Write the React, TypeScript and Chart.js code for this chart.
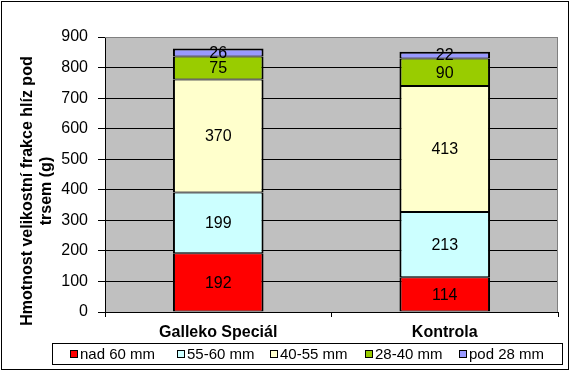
import React, { useEffect, useRef } from 'react';
import { Chart, registerables } from 'chart.js';

Chart.register(...registerables);

const categories = ['Galleko Speciál', 'Kontrola'];
const seriesNames = ['nad 60 mm', '55-60 mm', '40-55 mm', '28-40 mm', 'pod 28 mm'];
const nad60 = [192, 114];
const mm55to60 = [199, 213];
const mm40to55 = [370, 413];
const mm28to40 = [75, 90];
const pod28 = [26, 22];
const seriesValues = [nad60, mm55to60, mm40to55, mm28to40, pod28];
const seriesColors = ['#ff0000', '#ccffff', '#ffffcc', '#99cc00', '#9999ff'];
const yMin = 0;
const yMax = 900;
const yStep = 100;
const yTitle = ['Hmotnost velikostní frakce hlíz pod', 'trsem (g)'];

const FONT = "'Liberation Sans', Arial, sans-serif";
const LEGEND_X = [70, 177, 270, 365, 459];

const decorPlugin = {
  id: 'decor',
  beforeDraw(chart: any) {
    const { ctx, chartArea } = chart;
    ctx.save();
    ctx.fillStyle = '#c0c0c0';
    ctx.fillRect(chartArea.left, chartArea.top, chartArea.right - chartArea.left, chartArea.bottom - chartArea.top);
    ctx.restore();
  },
  beforeDatasetsDraw(chart: any) {
    const { ctx, chartArea } = chart;
    ctx.save();
    ctx.strokeStyle = '#808080';
    ctx.lineWidth = 1;
    ctx.beginPath();
    ctx.moveTo(chartArea.left, Math.round(chartArea.top) + 0.5);
    ctx.lineTo(Math.round(chartArea.right) - 0.5, Math.round(chartArea.top) + 0.5);
    ctx.lineTo(Math.round(chartArea.right) - 0.5, chartArea.bottom);
    ctx.stroke();
    ctx.restore();
  },
  afterDatasetsDraw(chart: any) {
    const { ctx } = chart;
    ctx.save();
    ctx.fillStyle = '#000';
    ctx.font = `16px ${FONT}`;
    ctx.textAlign = 'center';
    ctx.textBaseline = 'middle';
    chart.data.datasets.forEach((ds: any, i: number) => {
      const meta = chart.getDatasetMeta(i);
      meta.data.forEach((el: any, j: number) => {
        const p = el.getProps(['x', 'y', 'base'], true);
        ctx.fillText(String(ds.data[j]), p.x, (p.y + p.base) / 2 + 1);
      });
    });
    ctx.restore();
  },
  afterDraw(chart: any) {
    const { ctx } = chart;
    ctx.save();
    ctx.fillStyle = '#000';
    ctx.font = `bold 16px ${FONT}`;
    ctx.textAlign = 'center';
    ctx.textBaseline = 'alphabetic';
    ctx.translate(31.5, 191);
    ctx.rotate(-Math.PI / 2);
    yTitle.forEach((line, k) => ctx.fillText(line, 0, k * 19.5));
    ctx.restore();

    ctx.save();
    ctx.strokeStyle = '#000';
    ctx.lineWidth = 1;
    ctx.strokeRect(52.5, 343.5, 510, 21);
    ctx.font = `15px ${FONT}`;
    ctx.textBaseline = 'middle';
    ctx.textAlign = 'left';
    const cy = 354;
    chart.data.datasets.forEach((ds: any, i: number) => {
      const x = LEGEND_X[i];
      ctx.fillStyle = ds.backgroundColor;
      ctx.fillRect(x, cy - 4, 8, 8);
      ctx.strokeStyle = '#000';
      ctx.strokeRect(x + 0.5, cy - 3.5, 7, 7);
      ctx.fillStyle = '#000';
      ctx.fillText(ds.label, x + 10, cy + 1);
    });
    ctx.restore();

    ctx.save();
    ctx.strokeStyle = '#000';
    ctx.lineWidth = 1;
    ctx.strokeRect(1.5, 1.5, 567, 368);
    ctx.restore();
  },
};

export default function App() {
  const ref = useRef<HTMLCanvasElement>(null);
  useEffect(() => {
    document.body.style.margin = '0';
    const last = seriesValues.length - 1;
    const chart = new Chart(ref.current as HTMLCanvasElement, {
      type: 'bar',
      data: {
        labels: categories,
        datasets: seriesValues.map((vals, i) => ({
          label: seriesNames[i],
          data: vals,
          backgroundColor: seriesColors[i],
          borderColor: '#000',
          borderWidth: { left: 2, right: 2, top: i === last ? 2 : 1, bottom: 1 },
          borderSkipped: false,
          inflateAmount: 0,
          categoryPercentage: 1,
          barPercentage: 0.4,
        })),
      },
      options: {
        responsive: false,
        animation: false,
        layout: { padding: { top: 37, right: 12, left: 0, bottom: 0 } },
        plugins: { legend: { display: false }, tooltip: { enabled: false } },
        scales: {
          x: {
            stacked: true,
            grid: { display: true, drawOnChartArea: false, drawTicks: true, tickLength: 5, color: '#000', offset: true },
            border: { display: true, color: '#000', width: 1 },
            ticks: { color: '#000', font: { family: FONT, size: 16, weight: 'bold' }, padding: 6 },
            afterFit: (s: any) => { s.height = 59; },
          },
          y: {
            stacked: true,
            min: yMin,
            max: yMax,
            ticks: { stepSize: yStep, color: '#000', font: { family: FONT, size: 16 }, padding: 10 },
            grid: {
              color: (c: any) => (c.tick && c.tick.value === yMax ? '#808080' : '#000'),
              tickColor: '#000',
              tickLength: 7,
              drawTicks: true,
            },
            border: { display: true, color: '#000', width: 1 },
            afterFit: (s: any) => { s.width = 105; },
          },
        },
      },
      plugins: [decorPlugin],
    } as any);
    return () => chart.destroy();
  }, []);
  return (
    <div style={{ width: 570, height: 371 }}>
      <canvas ref={ref} width={570} height={371} />
    </div>
  );
}
